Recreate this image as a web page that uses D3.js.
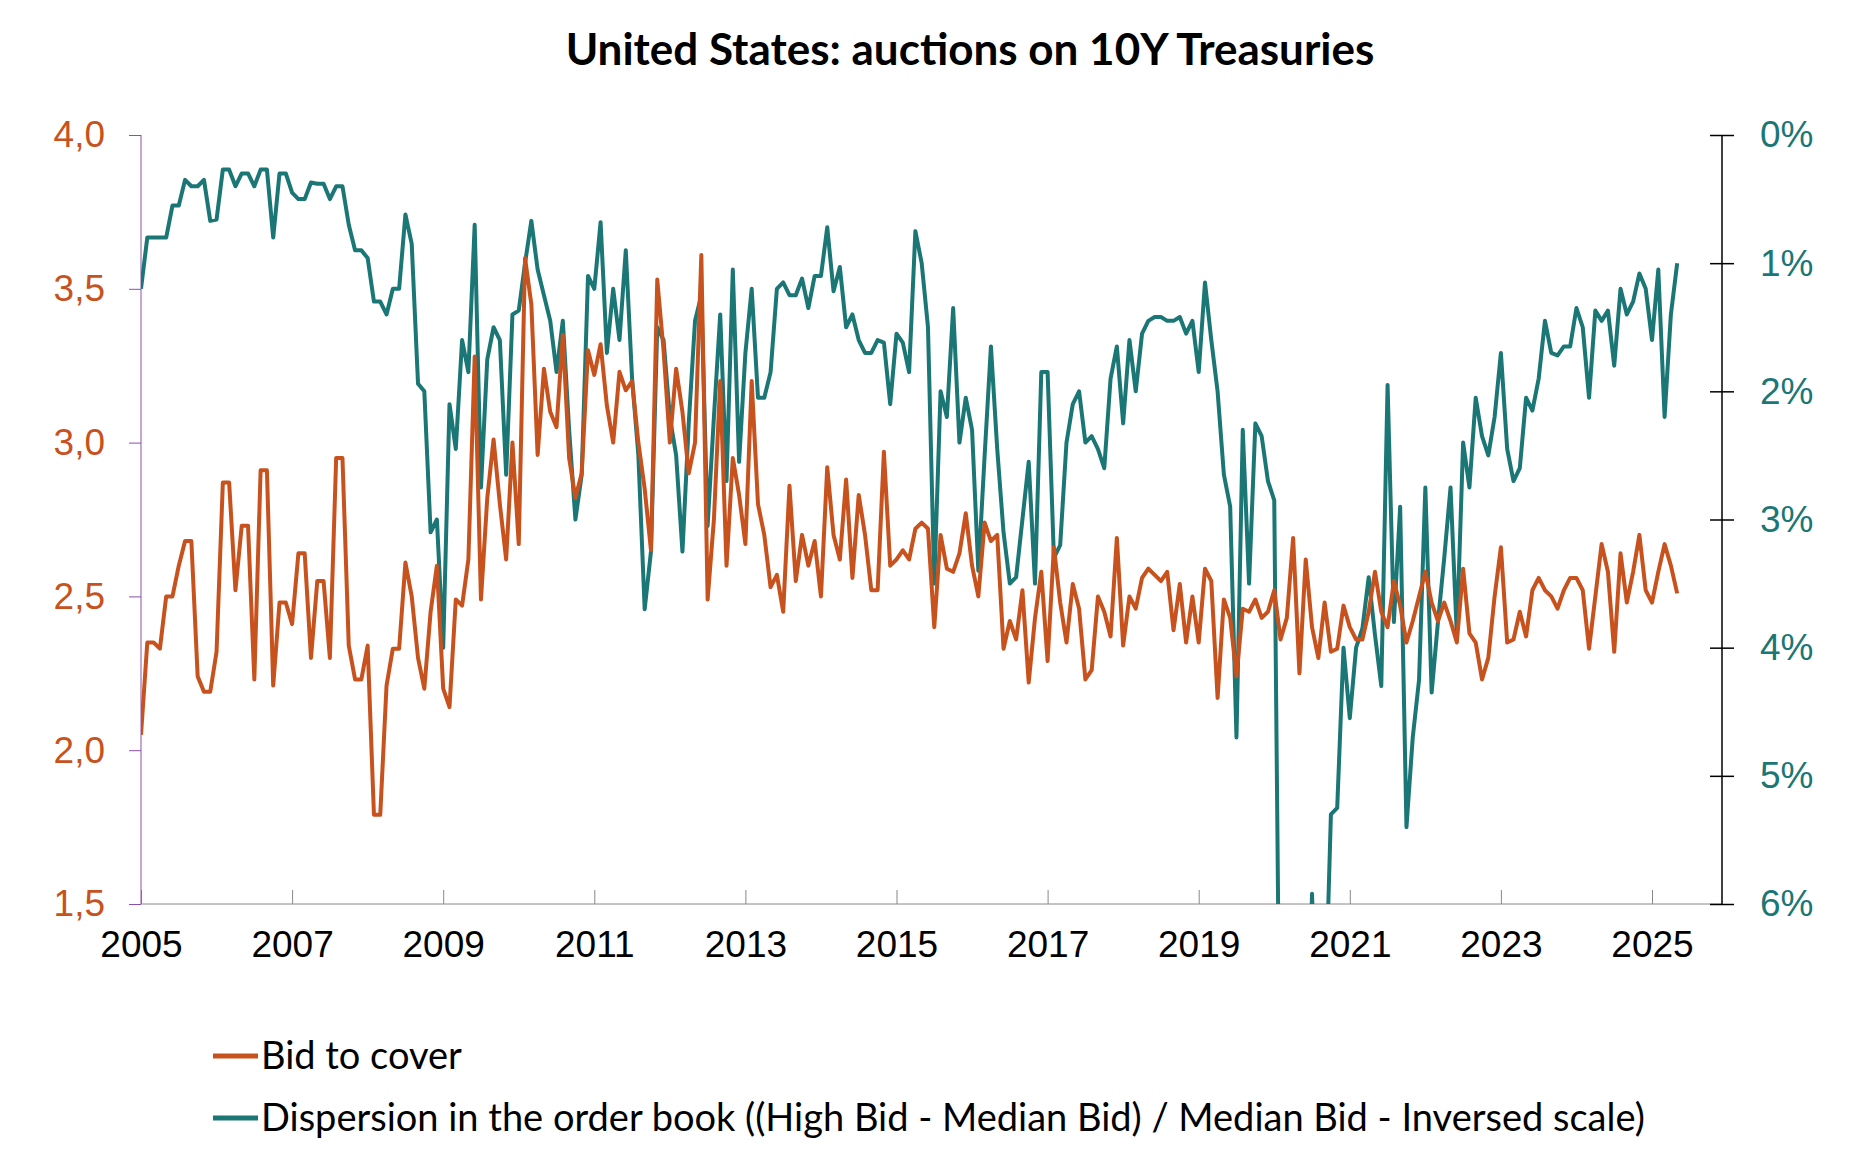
<!DOCTYPE html><html><head><meta charset="utf-8">
<script src="https://cdn.jsdelivr.net/npm/d3@7"></script>
<style>body{margin:0;background:#fff}svg{font-family:Lato,"Open Sans",sans-serif}</style></head><body>
<svg id="c" width="1873" height="1158"></svg>
<script>
const startYear = 2005; // monthly auctions from Jan 2005
const bidToCover = [2.05,2.35,2.35,2.33,2.5,2.5,2.6,2.68,2.68,2.24,2.19,2.19,2.32,2.87,2.87,2.52,2.73,2.73,2.23,2.91,2.91,2.21,2.48,2.48,2.41,2.64,2.64,2.3,2.55,2.55,2.3,2.95,2.95,2.34,2.23,2.23,2.34,1.79,1.79,2.21,2.33,2.33,2.61,2.5,2.3,2.2,2.45,2.6,2.2,2.14,2.49,2.47,2.62,3.28,2.49,2.82,3.01,2.8,2.62,3.0,2.67,3.6,3.45,2.96,3.24,3.1,3.05,3.35,2.95,2.82,2.9,3.3,3.22,3.32,3.12,3.0,3.23,3.17,3.2,3.0,2.85,2.65,3.53,3.3,3.0,3.24,3.1,2.9,3.0,3.61,2.49,2.75,3.2,2.6,2.95,2.83,2.67,3.2,2.8,2.7,2.53,2.57,2.45,2.86,2.55,2.7,2.6,2.68,2.5,2.92,2.7,2.62,2.88,2.56,2.83,2.7,2.52,2.52,2.97,2.6,2.62,2.65,2.62,2.72,2.74,2.72,2.4,2.7,2.59,2.58,2.64,2.77,2.6,2.5,2.74,2.68,2.7,2.33,2.42,2.36,2.52,2.22,2.43,2.58,2.29,2.66,2.48,2.35,2.54,2.46,2.23,2.26,2.5,2.45,2.37,2.69,2.34,2.5,2.46,2.56,2.59,2.57,2.55,2.58,2.39,2.54,2.35,2.5,2.35,2.59,2.55,2.17,2.49,2.43,2.24,2.46,2.45,2.49,2.43,2.45,2.52,2.36,2.43,2.69,2.25,2.62,2.4,2.3,2.48,2.32,2.33,2.47,2.4,2.36,2.36,2.45,2.58,2.45,2.4,2.55,2.47,2.35,2.42,2.5,2.58,2.48,2.42,2.48,2.42,2.35,2.59,2.38,2.35,2.23,2.3,2.5,2.66,2.35,2.36,2.45,2.37,2.52,2.56,2.52,2.5,2.46,2.52,2.56,2.56,2.52,2.33,2.5,2.67,2.58,2.32,2.64,2.48,2.58,2.7,2.52,2.48,2.58,2.67,2.6,2.51];
const dispersion = [1.2,0.8,0.8,0.8,0.8,0.55,0.55,0.35,0.4,0.4,0.35,0.67,0.66,0.27,0.27,0.4,0.3,0.3,0.4,0.27,0.27,0.8,0.3,0.3,0.45,0.5,0.5,0.37,0.38,0.38,0.5,0.4,0.4,0.7,0.9,0.9,0.96,1.3,1.3,1.4,1.2,1.2,0.62,0.85,1.94,2.0,3.1,3.0,4.0,2.1,2.45,1.6,1.85,0.7,2.75,1.75,1.5,1.6,2.65,1.4,1.37,1.0,0.67,1.05,1.25,1.45,1.85,1.45,2.3,3.0,2.65,1.1,1.2,0.68,1.7,1.2,1.6,0.9,1.9,2.5,3.7,3.25,1.5,1.6,2.2,2.5,3.25,2.25,1.45,1.25,3.05,2.2,1.4,2.7,1.05,2.55,1.7,1.2,2.05,2.05,1.85,1.2,1.15,1.25,1.25,1.12,1.35,1.1,1.1,0.72,1.22,1.03,1.5,1.4,1.6,1.7,1.7,1.6,1.62,2.1,1.55,1.62,1.85,0.75,1.0,1.5,3.5,2.0,2.2,1.35,2.4,2.05,2.3,3.4,2.5,1.65,2.45,3.1,3.5,3.45,3.0,2.55,3.5,1.85,1.85,3.3,3.2,2.4,2.1,2.0,2.4,2.35,2.45,2.6,1.9,1.65,2.25,1.6,2.0,1.55,1.45,1.42,1.42,1.45,1.45,1.42,1.55,1.45,1.85,1.15,1.6,2.0,2.65,2.9,4.7,2.3,3.5,2.25,2.35,2.7,2.85,8,9,9,9,8,5.92,7.5,7,5.3,5.25,4.0,4.55,4.0,3.85,3.45,3.9,4.3,1.95,3.8,2.9,5.4,4.7,4.25,2.75,4.35,3.8,3.3,2.75,3.9,2.4,2.75,2.05,2.35,2.5,2.2,1.7,2.45,2.7,2.6,2.05,2.15,1.9,1.45,1.7,1.72,1.65,1.65,1.35,1.5,2.05,1.37,1.45,1.37,1.8,1.2,1.4,1.3,1.08,1.2,1.6,1.05,2.2,1.4,1.0];
const xTicks = d3.range(2005, 2026, 2);
const leftTicks = [1.5,2.0,2.5,3.0,3.5,4.0];
const rightTicks = [0,1,2,3,4,5,6];

const svg = d3.select("#c");
const L=141,R=1722,T=135,B=904;
const x = d3.scaleLinear().domain([2005,2025]).range([L,1652]);
const yL = d3.scaleLinear().domain([1.5,4]).range([B,T]);
const yR = d3.scaleLinear().domain([0,6]).range([T,B]);
const orange="#C8521D", teal="#1B7676";
const dt = i => startYear + i/12;

svg.append("text").attr("x",970).attr("y",65).attr("text-anchor","middle")
  .attr("font-size",44).attr("font-weight","bold").text("United States: auctions on 10Y Treasuries");

svg.append("defs").append("clipPath").attr("id","clip").append("rect").attr("x",L).attr("y",T-10).attr("width",R-L).attr("height",B-T+10);

const gx = svg.append("g").attr("transform",`translate(0,${B})`).call(d3.axisBottom(x).tickValues(xTicks).tickFormat(d3.format("d")).tickSize(0));
gx.select(".domain").attr("stroke","#888").attr("d",`M${L},0H${R}`);
gx.selectAll(".tick line").attr("y1",-14).attr("y2",0).attr("stroke","#888");
gx.selectAll("text").attr("font-size",37).attr("dy","1.35em").attr("fill","#000");
const gl = svg.append("g").attr("transform",`translate(${L},0)`).call(d3.axisLeft(yL).tickValues(leftTicks).tickFormat(d3.format(".1f")).tickSize(10));
gl.select(".domain").attr("stroke","#8a4fb0").attr("d",`M0,${T}V${B}`);
gl.selectAll(".tick line").attr("stroke","#8a4fb0").attr("x2",-12);
gl.selectAll("text").attr("font-size",37).attr("fill",orange).attr("x",-36).text(d=>d3.format(".1f")(d).replace(".",","));
const gr = svg.append("g").attr("transform",`translate(${R},0)`).call(d3.axisRight(yR).tickValues(rightTicks).tickFormat(d=>d+"%").tickSize(12));
gr.select(".domain").attr("stroke","#000").attr("stroke-width",1.5).attr("d",`M0,${T}V${B}`);
gr.selectAll(".tick line").attr("stroke","#000").attr("stroke-width",1.5).attr("x1",-12).attr("x2",12);
gr.selectAll("text").attr("font-size",37).attr("fill",teal).attr("x",38);

const g = svg.append("g").attr("clip-path","url(#clip)");
g.append("path").datum(dispersion).attr("fill","none").attr("stroke",teal).attr("stroke-width",4).attr("stroke-linejoin","round")
  .attr("d",d3.line().x((d,i)=>x(dt(i))).y(d=>yR(d)));
g.append("path").datum(bidToCover).attr("fill","none").attr("stroke",orange).attr("stroke-width",4).attr("stroke-linejoin","round")
  .attr("d",d3.line().x((d,i)=>x(dt(i))).y(d=>yL(d)));

const leg=[["Bid to cover",orange,1056],["Dispersion in the order book ((High Bid - Median Bid) / Median Bid - Inversed scale)",teal,1118]];
leg.forEach(([t,c,y])=>{
  svg.append("line").attr("x1",213).attr("x2",258).attr("y1",y).attr("y2",y).attr("stroke",c).attr("stroke-width",5);
  svg.append("text").attr("x",261).attr("y",y+13).attr("font-size",38).text(t);
});
</script></body></html>
